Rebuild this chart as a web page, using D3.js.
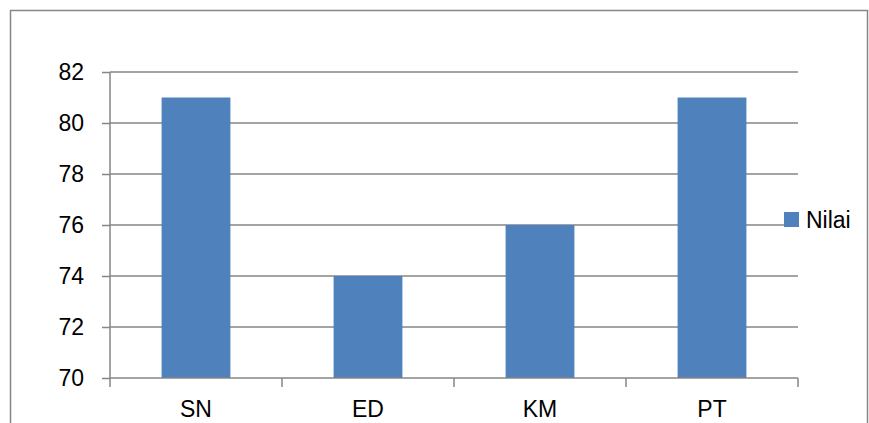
<!DOCTYPE html>
<html><head><meta charset="utf-8">
<script src="https://cdn.jsdelivr.net/npm/d3@7/dist/d3.min.js"></script>
<style>body{margin:0;background:#fff}svg{display:block}</style>
</head><body>
<script>
const categories = ["SN","ED","KM","PT"];
const values = [81,74,76,81];
const seriesName = "Nilai";
const yTicks = [70,72,74,76,78,80,82];

const W=869,H=423;
const svg=d3.select("body").append("svg").attr("width",W).attr("height",H);
const font="'Liberation Sans', Arial, sans-serif";
// outer frame
svg.append("rect").attr("x",10.5).attr("y",10.5).attr("width",857).attr("height",440)
  .attr("fill","none").attr("stroke","#868686").attr("stroke-width",1.5);

const L=110,R=798,T=72,B=378;
const x=d3.scaleBand().domain(categories).range([L,R]).paddingInner(0.6).paddingOuter(0.3);
const y=d3.scaleLinear().domain([70,82]).range([B,T]);

// gridlines
svg.append("g").selectAll("line").data(yTicks.filter(d=>d>70)).join("line")
  .attr("x1",L).attr("x2",R).attr("y1",d=>y(d)).attr("y2",d=>y(d))
  .attr("stroke","#868686").attr("stroke-width",1.5);

// bars
svg.append("g").selectAll("rect").data(values).join("rect")
  .attr("x",(d,i)=>x(categories[i])).attr("width",x.bandwidth())
  .attr("y",d=>y(d)).attr("height",d=>y(70)-y(d))
  .attr("fill","#4F81BD");

// y axis
const ya=svg.append("g").attr("transform",`translate(${L},0)`)
  .call(d3.axisLeft(y).tickValues(yTicks).tickSize(8).tickPadding(18).tickFormat(d3.format("d")));
ya.select(".domain").attr("stroke","#868686").attr("stroke-width",1.5).attr("d",`M0,${B}V${T}`);
ya.selectAll(".tick line").attr("stroke","#868686").attr("stroke-width",1.5);
ya.selectAll(".tick text").attr("font-family",font).attr("font-size",23).attr("fill","#000");

// x axis
const xa=svg.append("g").attr("transform",`translate(0,${B})`)
  .call(d3.axisBottom(x).tickSize(0).tickPadding(23));
xa.select(".domain").attr("stroke","#868686").attr("stroke-width",1.5).attr("d",`M${L},0H${R}`);
xa.selectAll(".tick text").attr("font-family",font).attr("font-size",23).attr("fill","#000");
// category boundary ticks
const bounds=[L].concat(categories.map(c=>x(c)+x.bandwidth()/2+x.step()/2));
xa.append("g").selectAll("line").data(bounds).join("line")
  .attr("x1",d=>d).attr("x2",d=>d).attr("y1",0).attr("y2",9)
  .attr("stroke","#868686").attr("stroke-width",1.5);

// legend
const lg=svg.append("g").attr("transform","translate(784,212)");
lg.append("rect").attr("width",15).attr("height",15).attr("fill","#4F81BD");
lg.append("text").attr("x",22).attr("y",16).attr("font-family",font).attr("font-size",23)
  .attr("fill","#000").text(seriesName);
</script>
</body></html>
